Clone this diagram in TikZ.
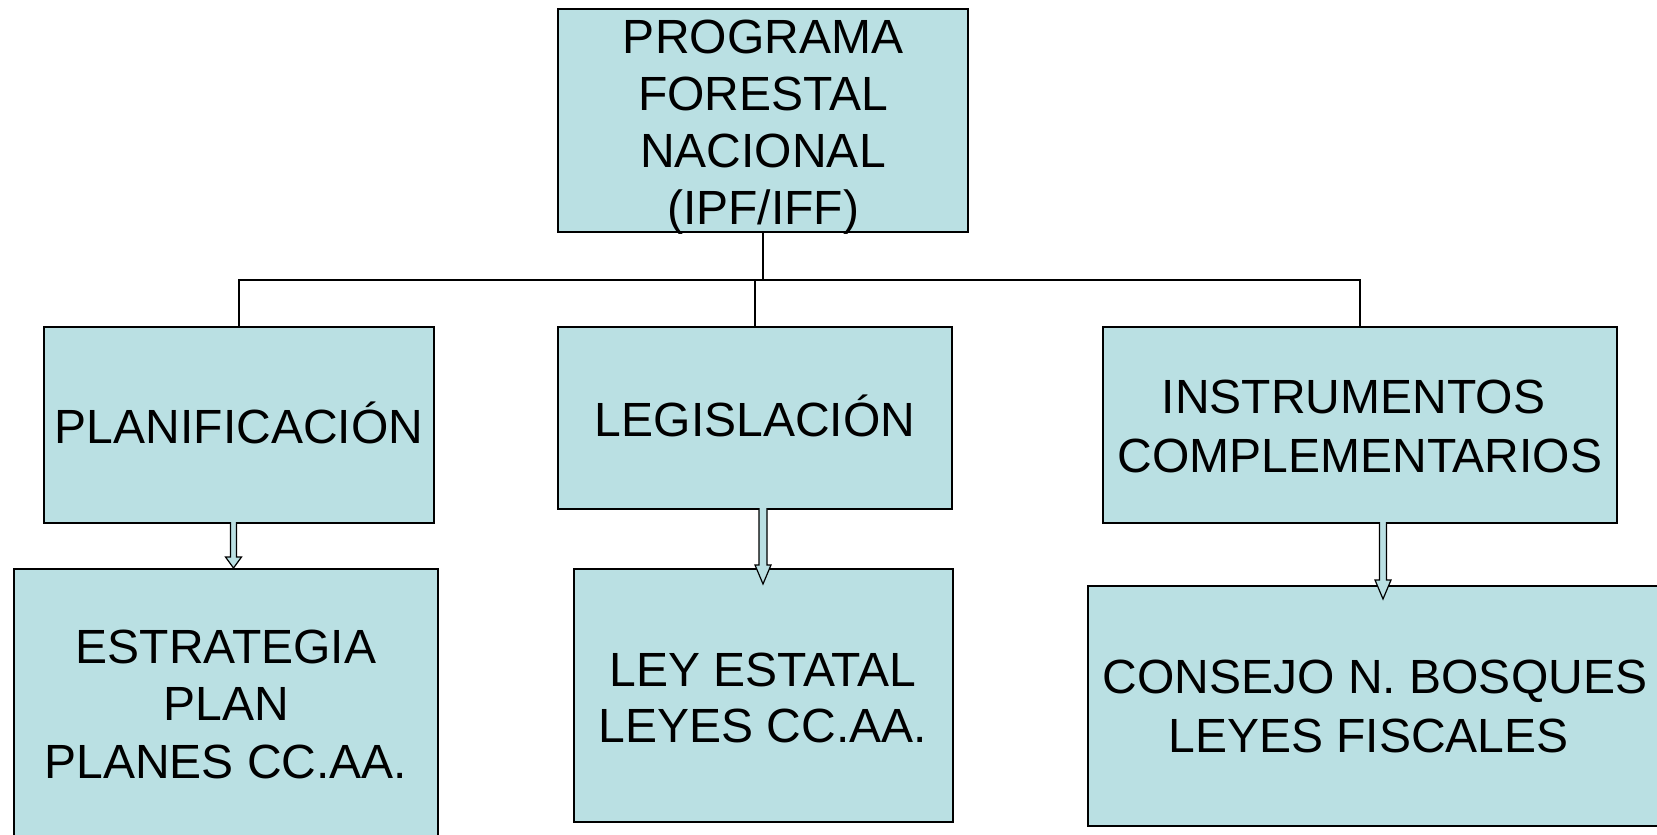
\documentclass[tikz,border=0pt]{standalone}
\usepackage{fontspec}
\setmainfont{Liberation Sans}
\usetikzlibrary{calc}
\definecolor{boxfill}{RGB}{186,224,227}
\tikzset{
  box/.style={draw=black, fill=boxfill, line width=1.5pt, inner sep=0pt},
  boxtext/.style={inner sep=0pt, align=center, anchor=north, font=\fontsize{48}{57}\selectfont},
  link/.style={draw=black, line width=1.5pt},
  harrow/.style={draw=black, fill=boxfill, line width=1.2pt, line join=miter}
}
\newcommand\fl{\rule{0pt}{50pt}}
\newcommand\hollowarrow[5]{%
  \draw[harrow] let \p1=(#1), \p2=(#2) in
    (\x1-#3pt,\y1+1pt) -- (\x1-#3pt,\y2+#5pt) -- (\x1-#4pt,\y2+#5pt) -- (\x2,\y2)
    -- (\x1+#4pt,\y2+#5pt) -- (\x1+#3pt,\y2+#5pt) -- (\x1+#3pt,\y1+1pt);}
\begin{document}
\begin{tikzpicture}[x=1pt,y=-1pt]
\useasboundingbox (0,0) rectangle (1657,835);
\fill[white] (0,0) rectangle (1657,835);

% boxes
\node[box, minimum width=410pt, minimum height=223pt] (top) at (763,120.5) {};
\node[box, minimum width=390pt, minimum height=196pt] (planif) at (239,425) {};
\node[box, minimum width=394pt, minimum height=182pt] (legis) at (755,418) {};
\node[box, minimum width=514pt, minimum height=196pt] (instr) at (1360,425) {};
\node[box, minimum width=424pt, minimum height=301pt] (estr) at (226,719.5) {};
\node[box, minimum width=379pt, minimum height=253pt] (ley) at (763.5,695.5) {};
\node[box, minimum width=574pt, minimum height=240pt] (consejo) at (1375,706) {};

% tree connectors
\coordinate (bus) at (763,280);
\draw[link] (top.south) -- (bus);
\draw[link] (planif.north) |- (bus) -| (instr.north);
\draw[link] (legis.north) -- (legis.north |- bus);

% hollow arrows
\coordinate (a1s) at (233.5,523);
\coordinate (a1t) at (233.5,568);
\coordinate (a2s) at (763,509);
\coordinate (a2t) at (763,584);
\coordinate (a3s) at (1383,523);
\coordinate (a3t) at (1383,599);
\hollowarrow{a1s}{a1t}{3}{8}{11}
\hollowarrow{a2s}{a2t}{4}{8}{19}
\hollowarrow{a3s}{a3t}{3.5}{8}{19}

% texts
\node[boxtext] (ttop) at (763,3) {\fl PROGRAMA\\FORESTAL\\NACIONAL\\(IPF/IFF)};
\node[boxtext] (tplanif) at (239,393) {\fl PLANIFICACIÓN};
\node[boxtext] (tlegis) at (755,386) {\fl LEGISLACIÓN};
\node[boxtext, font=\fontsize{48}{59}\selectfont] (tinstr) at (1360,363) {\fl INSTRUMENTOS\hspace*{13pt}\\COMPLEMENTARIOS};
\node[boxtext, font=\fontsize{48}{57.5}\selectfont] (testr) at (226,613) {\fl ESTRATEGIA\\PLAN\\PLANES CC.AA.};
\node[boxtext, font=\fontsize{48}{56}\selectfont] (tley) at (763,636) {\fl LEY ESTATAL\\LEYES CC.AA.};
\node[boxtext, font=\fontsize{48}{59}\selectfont] (tconsejo) at (1375,643) {\fl CONSEJO N. BOSQUES\\LEYES FISCALES\hspace*{13pt}};
\end{tikzpicture}
\end{document}
